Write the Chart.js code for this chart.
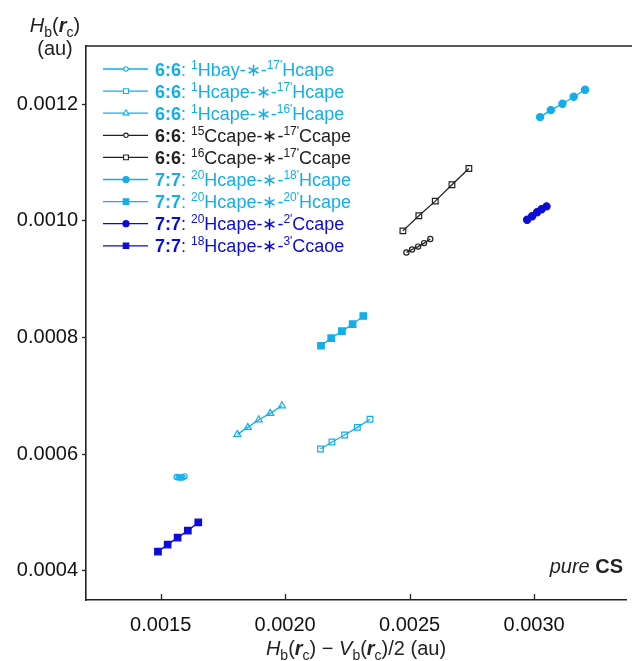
<!DOCTYPE html>
<html>
<head>
<meta charset="utf-8">
<script src="https://cdn.jsdelivr.net/npm/chart.js@4.4.1/dist/chart.umd.min.js"></script>
<style>
  html, body { margin: 0; padding: 0; background: #fff; }
  #wrap { width: 632px; height: 661px; }
</style>
</head>
<body>
<div id="wrap"><canvas id="chart" width="632" height="661"></canvas></div>
<script>
// tick values
const xTicks = [0.0015, 0.0020, 0.0025, 0.0030];
const yTicks = [0.0004, 0.0006, 0.0008, 0.0010, 0.0012];

// series values
const hbay17X = [0.001564, 0.001572, 0.00158, 0.001588, 0.001596];
const hbay17Y = [0.000561, 0.00056, 0.00056, 0.00056, 0.000562];
const hcape17X = [0.002142, 0.002188, 0.002239, 0.00229, 0.002341];
const hcape17Y = [0.000609, 0.000621, 0.000633, 0.000646, 0.00066];
const hcape16X = [0.001808, 0.00185, 0.001894, 0.00194, 0.001987];
const hcape16Y = [0.000634, 0.000646, 0.000659, 0.00067, 0.000683];
const ccape1517X = [0.002487, 0.00251, 0.002534, 0.002558, 0.002583];
const ccape1517Y = [0.000946, 0.000951, 0.000956, 0.000962, 0.000969];
const ccape1617X = [0.002473, 0.002537, 0.002603, 0.00267, 0.002738];
const ccape1617Y = [0.000983, 0.001009, 0.001034, 0.001062, 0.00109];
const hcape2018X = [0.003024, 0.003067, 0.003114, 0.003159, 0.003205];
const hcape2018Y = [0.001178, 0.00119, 0.001201, 0.001213, 0.001225];
const hcape2020X = [0.002144, 0.002185, 0.002228, 0.002271, 0.002314];
const hcape2020Y = [0.000786, 0.000799, 0.000811, 0.000823, 0.000837];
const ccape202X = [0.002972, 0.002992, 0.003012, 0.00303, 0.00305];
const ccape202Y = [0.001002, 0.001008, 0.001015, 0.00102, 0.001025];
const ccaoe183X = [0.001489, 0.001528, 0.001568, 0.001609, 0.001651];
const ccaoe183Y = [0.000433, 0.000445, 0.000457, 0.000469, 0.000483];

// legend text pieces
const legendGroup = ['6:6', '6:6', '6:6', '6:6', '6:6', '7:7', '7:7', '7:7', '7:7'];
const legendSupA = ['1', '1', '1', '15', '16', '20', '20', '20', '18'];
const legendMid = ['Hbay-\u2217-', 'Hcape-\u2217-', 'Hcape-\u2217-', 'Ccape-\u2217-', 'Ccape-\u2217-',
  'Hcape-\u2217-', 'Hcape-\u2217-', 'Hcape-\u2217-', 'Hcape-\u2217-'];
const legendSupB = ["17'", "17'", "16'", "17'", "17'", "18'", "20'", "2'", "3'"];
const legendEnd = ['Hcape', 'Hcape', 'Hcape', 'Ccape', 'Ccape', 'Hcape', 'Hcape', 'Ccape', 'Ccaoe'];

const LIGHT = '#12aeea';
const DARK = '#0c0cd6';
const BLACK = '#222222';
const FONT = "'Liberation Sans', Arial, sans-serif";

function pts(xs, ys) {
  return xs.map((x, i) => ({ x, y: ys[i] }));
}

function series(xs, ys, color, style, filled, radius) {
  return {
    data: pts(xs, ys),
    showLine: true,
    borderColor: color,
    borderWidth: 1.3,
    pointStyle: style,
    pointRadius: radius,
    pointBorderWidth: 1.2,
    pointBorderColor: color,
    pointBackgroundColor: filled ? color : 'rgba(0,0,0,0)',
    backgroundColor: filled ? color : 'rgba(0,0,0,0)'
  };
}

const datasets = [
  series(hbay17X, hbay17Y, LIGHT, 'circle', false, 2.6),
  series(hcape17X, hcape17Y, LIGHT, 'rect', false, 4),
  series(hcape16X, hcape16Y, LIGHT, 'triangle', false, 4),
  series(ccape1517X, ccape1517Y, BLACK, 'circle', false, 2.6),
  series(ccape1617X, ccape1617Y, BLACK, 'rect', false, 4),
  series(hcape2018X, hcape2018Y, LIGHT, 'circle', true, 3.6),
  series(hcape2020X, hcape2020Y, LIGHT, 'rect', true, 4.6),
  series(ccape202X, ccape202Y, DARK, 'circle', true, 3.6),
  series(ccaoe183X, ccaoe183Y, DARK, 'rect', true, 4.6)
];
const legendColors = [LIGHT, LIGHT, LIGHT, BLACK, BLACK, LIGHT, LIGHT, DARK, DARK];

// draw a run of styled text pieces, returns end x
function rich(ctx, x, y, parts, color) {
  ctx.fillStyle = color;
  ctx.textBaseline = 'alphabetic';
  ctx.textAlign = 'left';
  parts.forEach(p => {
    ctx.font = p.f;
    ctx.fillText(p.t, x, y + (p.dy || 0));
    x += ctx.measureText(p.t).width;
  });
  return x;
}
function richWidth(ctx, parts) {
  let w = 0;
  parts.forEach(p => { ctx.font = p.f; w += ctx.measureText(p.t).width; });
  return w;
}

const decor = {
  id: 'decor',
  afterDraw(chart) {
    const ctx = chart.ctx;
    const a = chart.chartArea;
    const xs = chart.scales.x;
    ctx.save();
    // top frame line
    ctx.strokeStyle = BLACK;
    ctx.lineWidth = 1.6;
    ctx.beginPath();
    ctx.moveTo(a.left, a.top);
    ctx.lineTo(chart.width, a.top);
    ctx.stroke();
    // inward x ticks
    ctx.lineWidth = 1.3;
    xTicks.forEach(v => {
      const px = Math.round(xs.getPixelForValue(v)) + 0.5;
      ctx.beginPath();
      ctx.moveTo(px, a.bottom);
      ctx.lineTo(px, a.bottom - 6);
      ctx.stroke();
    });

    // legend
    const lx0 = 103, lx1 = 148, mx = 126, tx = 155;
    const y0 = 69, dy = 22.1;
    chart.data.datasets.forEach((ds, i) => {
      const y = y0 + i * dy;
      ctx.strokeStyle = ds.borderColor;
      ctx.lineWidth = 1.3;
      ctx.beginPath();
      ctx.moveTo(lx0, y);
      ctx.lineTo(lx1, y);
      ctx.stroke();
      ctx.fillStyle = ds.pointBackgroundColor === 'rgba(0,0,0,0)' ? '#fff' : ds.pointBackgroundColor;
      ctx.strokeStyle = ds.pointBorderColor;
      ctx.lineWidth = 1.1;
      Chart.helpers.drawPoint(ctx, {
        pointStyle: ds.pointStyle,
        radius: ds.pointRadius * 0.85,
        borderWidth: 1.1,
        rotation: 0
      }, mx, y);
      rich(ctx, tx, y + 6.5, [
        { t: legendGroup[i], f: 'bold 18px ' + FONT },
        { t: ': ', f: '18px ' + FONT },
        { t: legendSupA[i], f: '12px ' + FONT, dy: -7 },
        { t: legendMid[i], f: '18px ' + FONT },
        { t: legendSupB[i], f: '12px ' + FONT, dy: -7 },
        { t: legendEnd[i], f: '18px ' + FONT }
      ], legendColors[i]);
    });

    // y axis title
    const yt1 = [
      { t: 'H', f: 'italic 20px ' + FONT },
      { t: 'b', f: '14px ' + FONT, dy: 5 },
      { t: '(', f: '20px ' + FONT },
      { t: 'r', f: 'italic bold 20px ' + FONT },
      { t: 'c', f: '14px ' + FONT, dy: 5 },
      { t: ')', f: '20px ' + FONT }
    ];
    rich(ctx, 55 - richWidth(ctx, yt1) / 2, 32, yt1, BLACK);
    const yt2 = [{ t: '(au)', f: '20px ' + FONT }];
    rich(ctx, 55 - richWidth(ctx, yt2) / 2, 55, yt2, BLACK);

    // x axis title
    const xt = [
      { t: 'H', f: 'italic 20px ' + FONT },
      { t: 'b', f: '14px ' + FONT, dy: 5 },
      { t: '(', f: '20px ' + FONT },
      { t: 'r', f: 'italic bold 20px ' + FONT },
      { t: 'c', f: '14px ' + FONT, dy: 5 },
      { t: ') \u2212 ', f: '20px ' + FONT },
      { t: 'V', f: 'italic 20px ' + FONT },
      { t: 'b', f: '14px ' + FONT, dy: 5 },
      { t: '(', f: '20px ' + FONT },
      { t: 'r', f: 'italic bold 20px ' + FONT },
      { t: 'c', f: '14px ' + FONT, dy: 5 },
      { t: ')/2 (au)', f: '20px ' + FONT }
    ];
    rich(ctx, 356 - richWidth(ctx, xt) / 2, 655, xt, BLACK);

    // annotation
    const pc = [
      { t: 'pure ', f: 'italic 20px ' + FONT },
      { t: 'CS', f: 'bold 20px ' + FONT }
    ];
    rich(ctx, 623 - richWidth(ctx, pc), 573, pc, BLACK);
    ctx.restore();
  }
};

new Chart(document.getElementById('chart'), {
  type: 'scatter',
  data: { datasets },
  options: {
    responsive: false,
    devicePixelRatio: 1,
    animation: false,
    layout: { padding: { top: 46, left: 0, right: 0, bottom: 0 } },
    plugins: { legend: { display: false }, tooltip: { enabled: false } },
    scales: {
      x: {
        type: 'linear',
        min: 0.0012,
        max: 0.00337,
        afterBuildTicks: s => { s.ticks = xTicks.map(v => ({ value: v })); },
        afterFit: s => { s.height = 61; },
        grid: { display: true, drawOnChartArea: false, drawTicks: false },
        border: { display: true, color: BLACK, width: 1.6 },
        ticks: {
          padding: 13,
          color: '#111',
          font: { family: FONT, size: 20 },
          maxRotation: 0,
          callback: v => v.toFixed(4)
        }
      },
      y: {
        type: 'linear',
        min: 0.00035,
        max: 0.0013,
        afterBuildTicks: s => { s.ticks = yTicks.map(v => ({ value: v })); },
        afterFit: s => { s.width = 86; },
        grid: { display: true, drawOnChartArea: false, drawTicks: true, tickLength: 4, color: BLACK, tickWidth: 1.3 },
        border: { display: true, color: BLACK, width: 1.6 },
        ticks: {
          padding: 4,
          color: '#111',
          font: { family: FONT, size: 20 },
          callback: v => v.toFixed(4)
        }
      }
    }
  },
  plugins: [decor]
});
</script>
</body>
</html>
